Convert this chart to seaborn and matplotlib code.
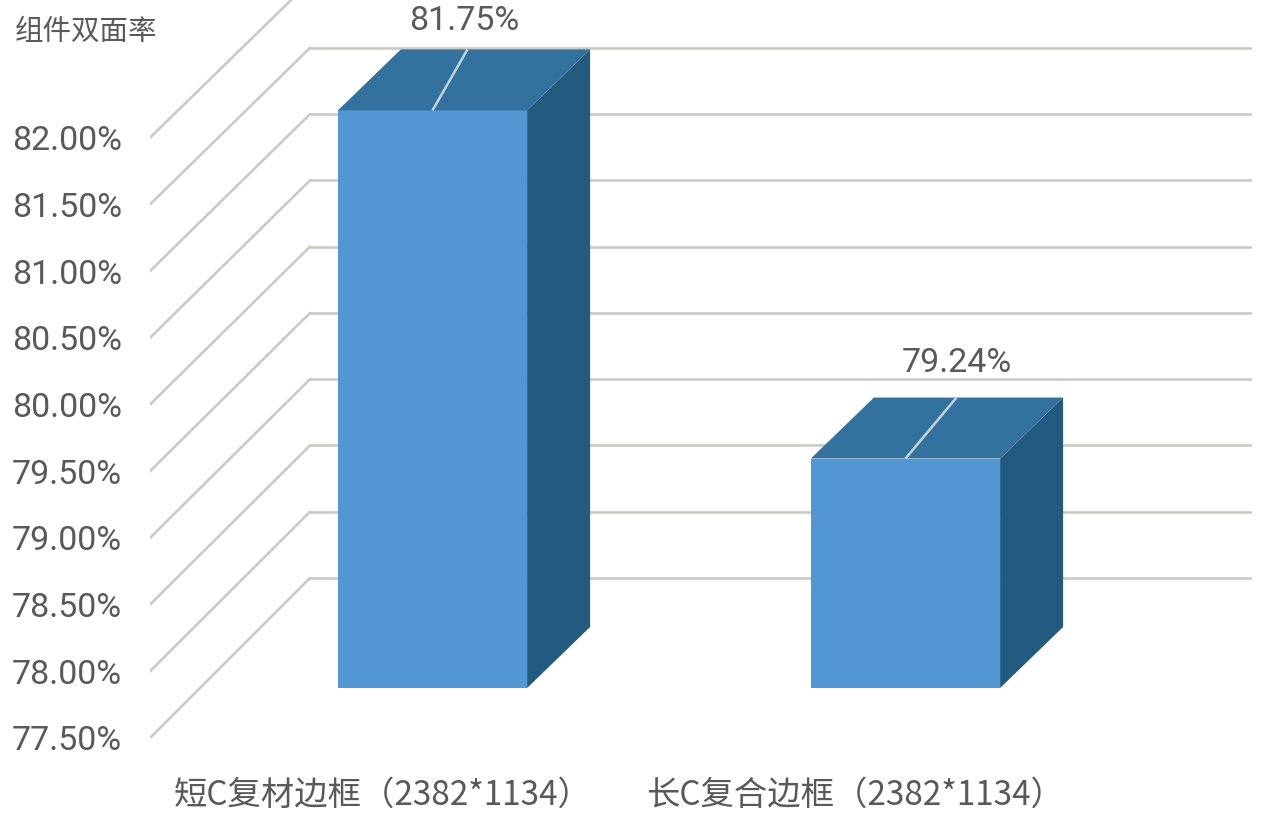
import numpy as np
import pandas as pd
import matplotlib
matplotlib.use("Agg")
import matplotlib.pyplot as plt
import seaborn as sns
from matplotlib.patches import Polygon
from matplotlib.transforms import ScaledTranslation

sns.set_theme(style="white")
cjk = "Noto Sans CJK SC"
latin = "Roboto"

# values
categories = ["短C复材边框（2382*1134）", "长C复合边框（2382*1134）"]
bar_heights = [81.83, 79.22]  # where the bars stand against the axis
bar_labels = ["81.75%", "79.24%"]
y_ticks = [77.5, 78.0, 78.5, 79.0, 79.5, 80.0, 80.5, 81.0, 81.5, 82.0]
y_tick_labels = ["77.50%", "78.00%", "78.50%", "79.00%", "79.50%",
                 "80.00%", "80.50%", "81.00%", "81.50%", "82.00%"]
y_title = "组件双面率"

front_color = "#5296d4"
top_color = "#33719f"
side_color = "#235a80"
grid_color = "#cbcbc4"
text_color = "#595959"

W, H = 1265, 823
PX_X = 1 / 473      # one pixel in category units
PX_Y = 0.5 / 66.7   # one pixel in percent units
floor = y_ticks[0]

fig = plt.figure(figsize=(W / 100, H / 100), dpi=100)
ax = fig.add_axes([150 / W, (H - 738) / H, (1252 - 150) / W, 738 / H])
ax.set_facecolor("none")

df = pd.DataFrame({"frame": categories, "rate": np.array(bar_heights) - floor})
sns.barplot(data=df, x="frame", y="rate", color=front_color, saturation=1,
            width=0.4, bottom=floor, linewidth=0, ax=ax, zorder=3)

ax.set_xlim(-232.5 * PX_X, (1252 - 382.5) * PX_X)
ax.set_ylim(floor, floor + 738 * PX_Y)
x0, x1 = ax.get_xlim()

# back wall and the floor-to-wall diagonals, wall spacing is a touch tighter
wall_x, wall_y = 160 * PX_X, 160 * PX_Y
for t in y_ticks:
    back = floor + (t - floor) * 0.9935 + wall_y
    ax.plot([x0, x0 + wall_x], [t, back], color=grid_color, lw=1.9, zorder=1)
    ax.plot([x0 + wall_x, x1], [back, back], color=grid_color, lw=1.9, zorder=1)

# the bars stand 50px into the depth, the box itself is 63px deep
plane = ax.transData + ScaledTranslation(50 / 100, 50 / 100, fig.dpi_scale_trans)
box_x, box_y = 63 * PX_X, 61 * PX_Y
leader_dx = [35, 51]
label_dx = [-3, 0]
label_rise = [28, 35]
for i, (bar, label) in enumerate(zip(ax.patches, bar_labels)):
    bar.set_transform(plane)
    bar.set_clip_on(False)
    left, right = bar.get_x(), bar.get_x() + bar.get_width()
    base, top = bar.get_y(), bar.get_y() + bar.get_height()
    ax.add_patch(Polygon([(right, base), (right + box_x, base + box_y),
                          (right + box_x, top + box_y), (right, top)],
                         fc=side_color, ec="none", transform=plane, zorder=3, clip_on=False))
    ax.add_patch(Polygon([(left, top), (left + box_x, top + box_y),
                          (right + box_x, top + box_y), (right, top)],
                         fc=top_color, ec="none", transform=plane, zorder=3, clip_on=False))
    mid = (left + right) / 2
    end = mid + leader_dx[i] * PX_X
    ax.plot([mid, end], [top, top + box_y], color="#c4d2da", lw=1.8,
            transform=plane, zorder=4, clip_on=False, solid_capstyle="butt")
    ax.text(end + label_dx[i] * PX_X, top + box_y + label_rise[i] * PX_Y, label, transform=plane,
            ha="center", va="center", family=latin, fontsize=24.5, color=text_color,
            zorder=5, clip_on=False)

ax.set_xlabel("")
ax.set_ylabel("")
ax.set_yticks(y_ticks, y_tick_labels, family=latin, fontsize=24.5, color=text_color)
ax.set_xticks([0, 1], categories, family=cjk, fontsize=24, color=text_color)
ax.tick_params(axis="both", length=0)
ax.tick_params(axis="y", pad=20)
ax.tick_params(axis="x", pad=29)
sns.despine(ax=ax, left=True, bottom=True, top=True, right=True)

fig.text(15 / W, 1 - 32 / H, y_title, family=cjk, fontsize=20.5, color=text_color,
         ha="left", va="center")

fig.savefig("out.png", dpi=100, facecolor="white")
